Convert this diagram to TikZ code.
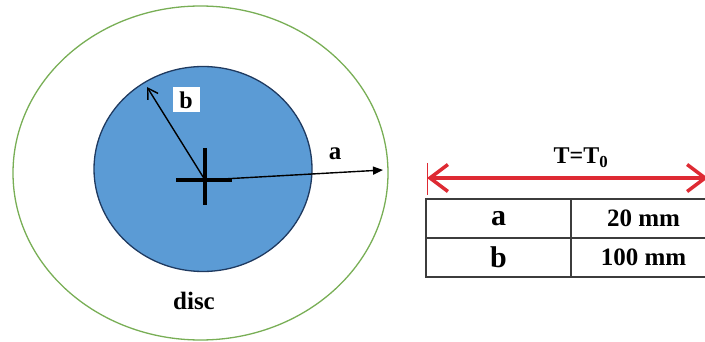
\documentclass[tikz,border=0pt]{standalone}
\usepackage{fontspec}
\setmainfont{Liberation Serif}
\usepackage{tikz}
\usetikzlibrary{arrows.meta,positioning,shapes.geometric,calc}
\definecolor{DSBlue}{HTML}{5B9BD5}
\definecolor{DSEdge}{HTML}{1F3A60}
\definecolor{DSRim}{HTML}{78AE55}
\definecolor{DSRed}{HTML}{DE2A33}
\definecolor{DSGrid}{HTML}{3C3C3C}
\newcommand{\bigbf}[1]{\fontsize{#1}{#1}\selectfont\bfseries}

\begin{document}
\begin{tikzpicture}[
    x=1pt,y=-1pt,
    disc/.style={ellipse, inner sep=0pt, outer sep=0pt},
    lbl/.style={font=\bigbf{24}, inner sep=1.5pt},
    radius/.style={line width=1.4pt, draw=black},
    cell/.style={draw=DSGrid, line width=1.3pt, outer sep=0pt, inner sep=0pt,
      minimum width=145pt, minimum height=39pt},
    keycell/.style={cell, font=\bigbf{30}},
    valcell/.style={cell, font=\bigbf{25}}
  ]
    \useasboundingbox (0,0) rectangle (705,342);
    \clip (0,0) rectangle (705,342);

    % disc and hole
    \node[disc, draw=DSRim, line width=1.3pt, minimum width=375pt, minimum height=334pt]
      (rim) at (200.5,173) {};
    \node[disc, draw=DSEdge, fill=DSBlue, line width=1.3pt, minimum width=218pt,
      minimum height=205pt] (hole) at (203,169) {};

    \coordinate (o) at (205,180);
    \coordinate (atip) at (383,170);
    \coordinate (btip) at (147,87);

    \draw[line width=4pt] ($(o)+(-29,0)$) -- ($(o)+(27,0)$);
    \draw[line width=4pt] ($(o)+(0,-32)$) -- ($(o)+(0,25)$);

    \draw[radius, -{Triangle[length=10pt,width=8pt]}] (o) -- (atip);
    \draw[radius, -{Straight Barb[length=10pt,width=12pt]}] (o) -- (btip);

    \node[lbl, fill=white, minimum width=27pt, minimum height=25pt] (blab) at (186,100) {b};
    \node[lbl, font=\bigbf{25}] (alab) at (335,154) {a};
    \node[lbl, font=\bigbf{25}] (disclab) at (194,301) {disc};

    % boundary condition
    \coordinate (tl) at (427,178);
    \coordinate (tr) at (708,178);
    \coordinate (tickt) at (427,163);
    \coordinate (tickb) at (427,195);
    \draw[DSRed, line width=1pt] (tickt) -- (tickb);
    \draw[DSRed, line width=3.5pt,
      {Straight Barb[length=18pt,width=27pt]}-{Straight Barb[length=18pt,width=27pt]}] (tl) -- (tr);
    \node[lbl] (tlab) at (581,158) {T=T\textsubscript{0}};

    % dimensions
    \node[keycell, anchor=north west] (ka) at (426,199) {a};
    \node[keycell, below=0pt of ka] (kb) {b};
    \node[valcell, right=0pt of ka] (va) {20 mm};
    \node[valcell, right=0pt of kb] (vb) {100 mm};
\end{tikzpicture}
\end{document}
